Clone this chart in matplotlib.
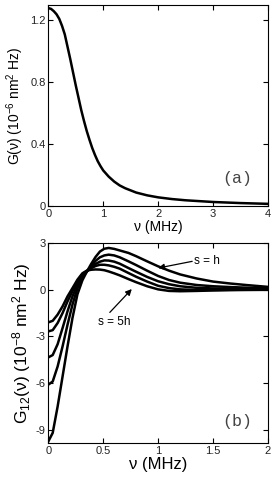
import matplotlib
matplotlib.use('Agg')
import matplotlib.pyplot as plt
import numpy as np

plt.rcParams['font.family'] = ['Liberation Sans', 'DejaVu Sans']
plt.rcParams['mathtext.fontset'] = 'custom'
plt.rcParams['mathtext.rm'] = 'Liberation Sans'
plt.rcParams['mathtext.it'] = 'Liberation Sans:italic'
plt.rcParams['axes.unicode_minus'] = False

# panel (a): spectral density G(nu)
nu_a = [0, 0.05, 0.1, 0.15, 0.2, 0.25, 0.3, 0.35, 0.4, 0.45, 0.5, 0.55, 0.6,
        0.65, 0.7, 0.75, 0.8, 0.85, 0.9, 0.95, 1.0, 1.1, 1.2, 1.3, 1.4, 1.6,
        1.8, 2.0, 2.25, 2.5, 3.0, 3.5, 4.0]
g_a = [1.28, 1.275, 1.26, 1.24, 1.21, 1.165, 1.11, 1.03, 0.95, 0.865, 0.78,
       0.70, 0.62, 0.55, 0.485, 0.428, 0.375, 0.33, 0.29, 0.258, 0.23, 0.19,
       0.158, 0.133, 0.115, 0.087, 0.069, 0.056, 0.045, 0.037, 0.026, 0.019,
       0.014]

# panel (b): cross spectral density G12(nu), s = h ... 5h
nu_b = [0, 0.04, 0.085, 0.13, 0.175, 0.22, 0.265, 0.31, 0.35, 0.39, 0.43,
        0.47, 0.51, 0.55, 0.6, 0.65, 0.73, 0.8, 0.9, 1.0, 1.1, 1.2, 1.35,
        1.5, 1.65, 1.8, 2.0]
g12_s1 = [-9.75, -9.2, -7.5, -5.57, -3.64, -1.82, -0.3, 0.6, 1.15, 1.65, 2.1,
          2.45, 2.63, 2.68, 2.62, 2.52, 2.36, 2.15, 1.82, 1.5, 1.22, 0.98,
          0.72, 0.52, 0.4, 0.3, 0.18]
g12_s2 = [-6.1, -5.9, -4.93, -3.64, -2.25, -0.96, 0.1, 0.8, 1.15, 1.5, 1.85,
          2.08, 2.2, 2.25, 2.2, 2.08, 1.82, 1.58, 1.22, 0.88, 0.62, 0.45,
          0.3, 0.22, 0.17, 0.13, 0.1]
g12_s3 = [-4.35, -4.2, -3.5, -2.46, -1.39, -0.43, 0.32, 0.9, 1.18, 1.42, 1.65,
          1.8, 1.88, 1.87, 1.8, 1.67, 1.39, 1.15, 0.82, 0.54, 0.35, 0.22,
          0.12, 0.08, 0.06, 0.05, 0.04]
g12_s4 = [-2.68, -2.6, -2.14, -1.5, -0.75, -0.1, 0.53, 1.0, 1.2, 1.38, 1.52,
          1.6, 1.6, 1.56, 1.47, 1.35, 1.07, 0.83, 0.52, 0.25, 0.1, 0.02,
          -0.02, -0.02, -0.01, 0.0, 0.0]
g12_s5 = [-2.1, -2.0, -1.6, -1.07, -0.43, 0.1, 0.64, 1.05, 1.22, 1.28, 1.3,
          1.29, 1.25, 1.17, 1.05, 0.92, 0.68, 0.48, 0.22, 0.02, -0.08, -0.1,
          -0.08, -0.05, -0.03, -0.02, -0.01]

fig = plt.figure(figsize=(2.77, 4.82), dpi=100)
ax1 = fig.add_axes([0.1744, 0.5726, 0.793, 0.417])
ax2 = fig.add_axes([0.1744, 0.0809, 0.793, 0.415])

for ax in (ax1, ax2):
    ax.tick_params(direction='in', top=True, right=True, length=3.5,
                   width=0.8, labelsize=8, pad=2, labelcolor='#222222')
    for sp in ax.spines.values():
        sp.set_linewidth(0.8)

ax1.plot(nu_a, g_a, color='black', lw=1.8)
ax1.set_xlim(0, 4)
ax1.set_ylim(0, 1.3)
ax1.set_xticks([0, 1, 2, 3, 4])
ax1.set_yticks([0, 0.4, 0.8, 1.2])
ax1.set_yticklabels(['0', '0.4', '0.8', '1.2'])
ax1.set_xlabel('ν (MHz)', fontsize=10, labelpad=1)
ax1.set_ylabel('G(ν) (10$^{-6}$ nm$^{2}$ Hz)', fontsize=10, labelpad=3)
ax1.text(0.93, 0.1, '(a)', transform=ax1.transAxes, ha='right', va='bottom',
         fontsize=12, family='Liberation Mono', color='#444444')

for g in (g12_s1, g12_s2, g12_s3, g12_s4, g12_s5):
    ax2.plot(nu_b, g, color='black', lw=1.8)
ax2.set_xlim(0, 2)
ax2.set_ylim(-9.85, 3)
ax2.set_xticks([0, 0.5, 1, 1.5, 2])
ax2.set_xticklabels(['0', '0.5', '1', '1.5', '2'])
ax2.set_yticks([3, 0, -3, -6, -9])
ax2.set_xlabel('ν (MHz)', fontsize=12, labelpad=1)
ax2.set_ylabel('G$_{12}$(ν) (10$^{-8}$ nm$^{2}$ Hz)', fontsize=12.5,
               labelpad=2)
ax2.text(0.93, 0.07, '(b)', transform=ax2.transAxes, ha='right', va='bottom',
         fontsize=12, family='Liberation Mono', color='#444444')

arrow = dict(arrowstyle='-|>', color='black', lw=0.9, mutation_scale=9,
             shrinkA=0, shrinkB=0)
ax2.annotate('', xy=(1.0, 1.39), xytext=(1.31, 1.82), arrowprops=arrow)
ax2.text(1.33, 1.85, 's = h', fontsize=8.5, va='center', ha='left')
ax2.annotate('', xy=(0.76, 0.04), xytext=(0.56, -1.46), arrowprops=arrow)
ax2.text(0.6, -2.1, 's = 5h', fontsize=8.5, va='center', ha='center')

fig.savefig('out.png', dpi=100)
